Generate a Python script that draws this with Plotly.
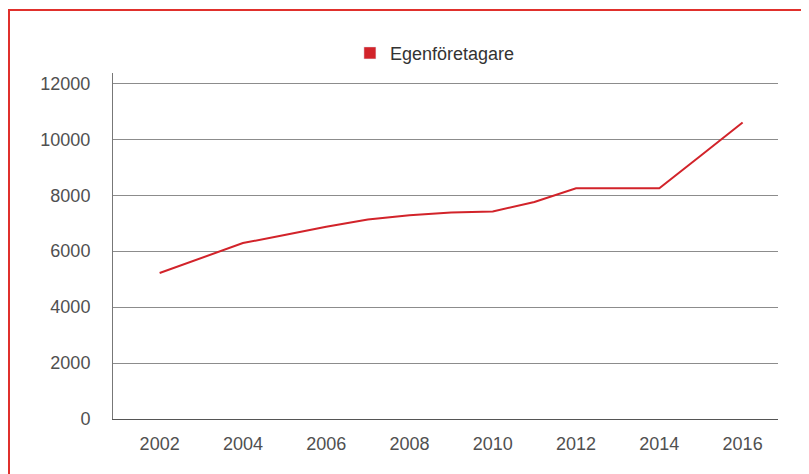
import plotly.graph_objects as go

years = [2002, 2003, 2004, 2005, 2006, 2007, 2008, 2009, 2010, 2011, 2012, 2013, 2014, 2015, 2016]
egenforetagare = [5220, 5760, 6290, 6580, 6870, 7130, 7280, 7380, 7420, 7760, 8250, 8250, 8250, 9420, 10600]
series_name = "Egenföretagare"
x_ticks = [2002, 2004, 2006, 2008, 2010, 2012, 2014, 2016]
y_ticks = [0, 2000, 4000, 6000, 8000, 10000, 12000]

RED = "#d2232a"
FONT = "Liberation Sans, Arial, sans-serif"

fig = go.Figure()
fig.add_trace(go.Scatter(
    x=years, y=egenforetagare, mode="lines",
    line=dict(color=RED, width=2),
    showlegend=False,
))
# legend entry as a filled square
fig.add_trace(go.Bar(x=[None], y=[None], name=series_name,
                     marker=dict(color=RED), showlegend=True))

# red frame around the whole graphic
fig.add_shape(type="rect", xref="paper", yref="paper",
              x0=-0.1564, x1=1.2, y0=-0.3, y1=1.182,
              line=dict(color="#e0302c", width=2), layer="above")

fig.update_layout(
    width=801, height=466,
    margin=dict(l=105, r=31, t=65, b=55, autoexpand=False),
    plot_bgcolor="white", paper_bgcolor="white",
    font=dict(family=FONT, size=18, color="#505050"),
    legend=dict(orientation="h", xref="container", yref="container",
                x=0.533, xanchor="center", y=0.903, yanchor="middle",
                font=dict(size=18, color="#333333"), itemwidth=30,
                bgcolor="rgba(0,0,0,0)"),
    xaxis=dict(range=[2000.88, 2016.85], tickvals=x_ticks, showgrid=False,
               showline=True, linecolor="#555555", linewidth=1,
               ticks="", zeroline=False, ticklabelstandoff=8),
    yaxis=dict(range=[0, 12370], tickvals=y_ticks, tickformat="d", showgrid=True,
               gridcolor="#8c8c8c", gridwidth=1,
               showline=True, linecolor="#777777", linewidth=1,
               ticks="", zeroline=False, ticklabelstandoff=18),
)

fig.write_html("out.html")
